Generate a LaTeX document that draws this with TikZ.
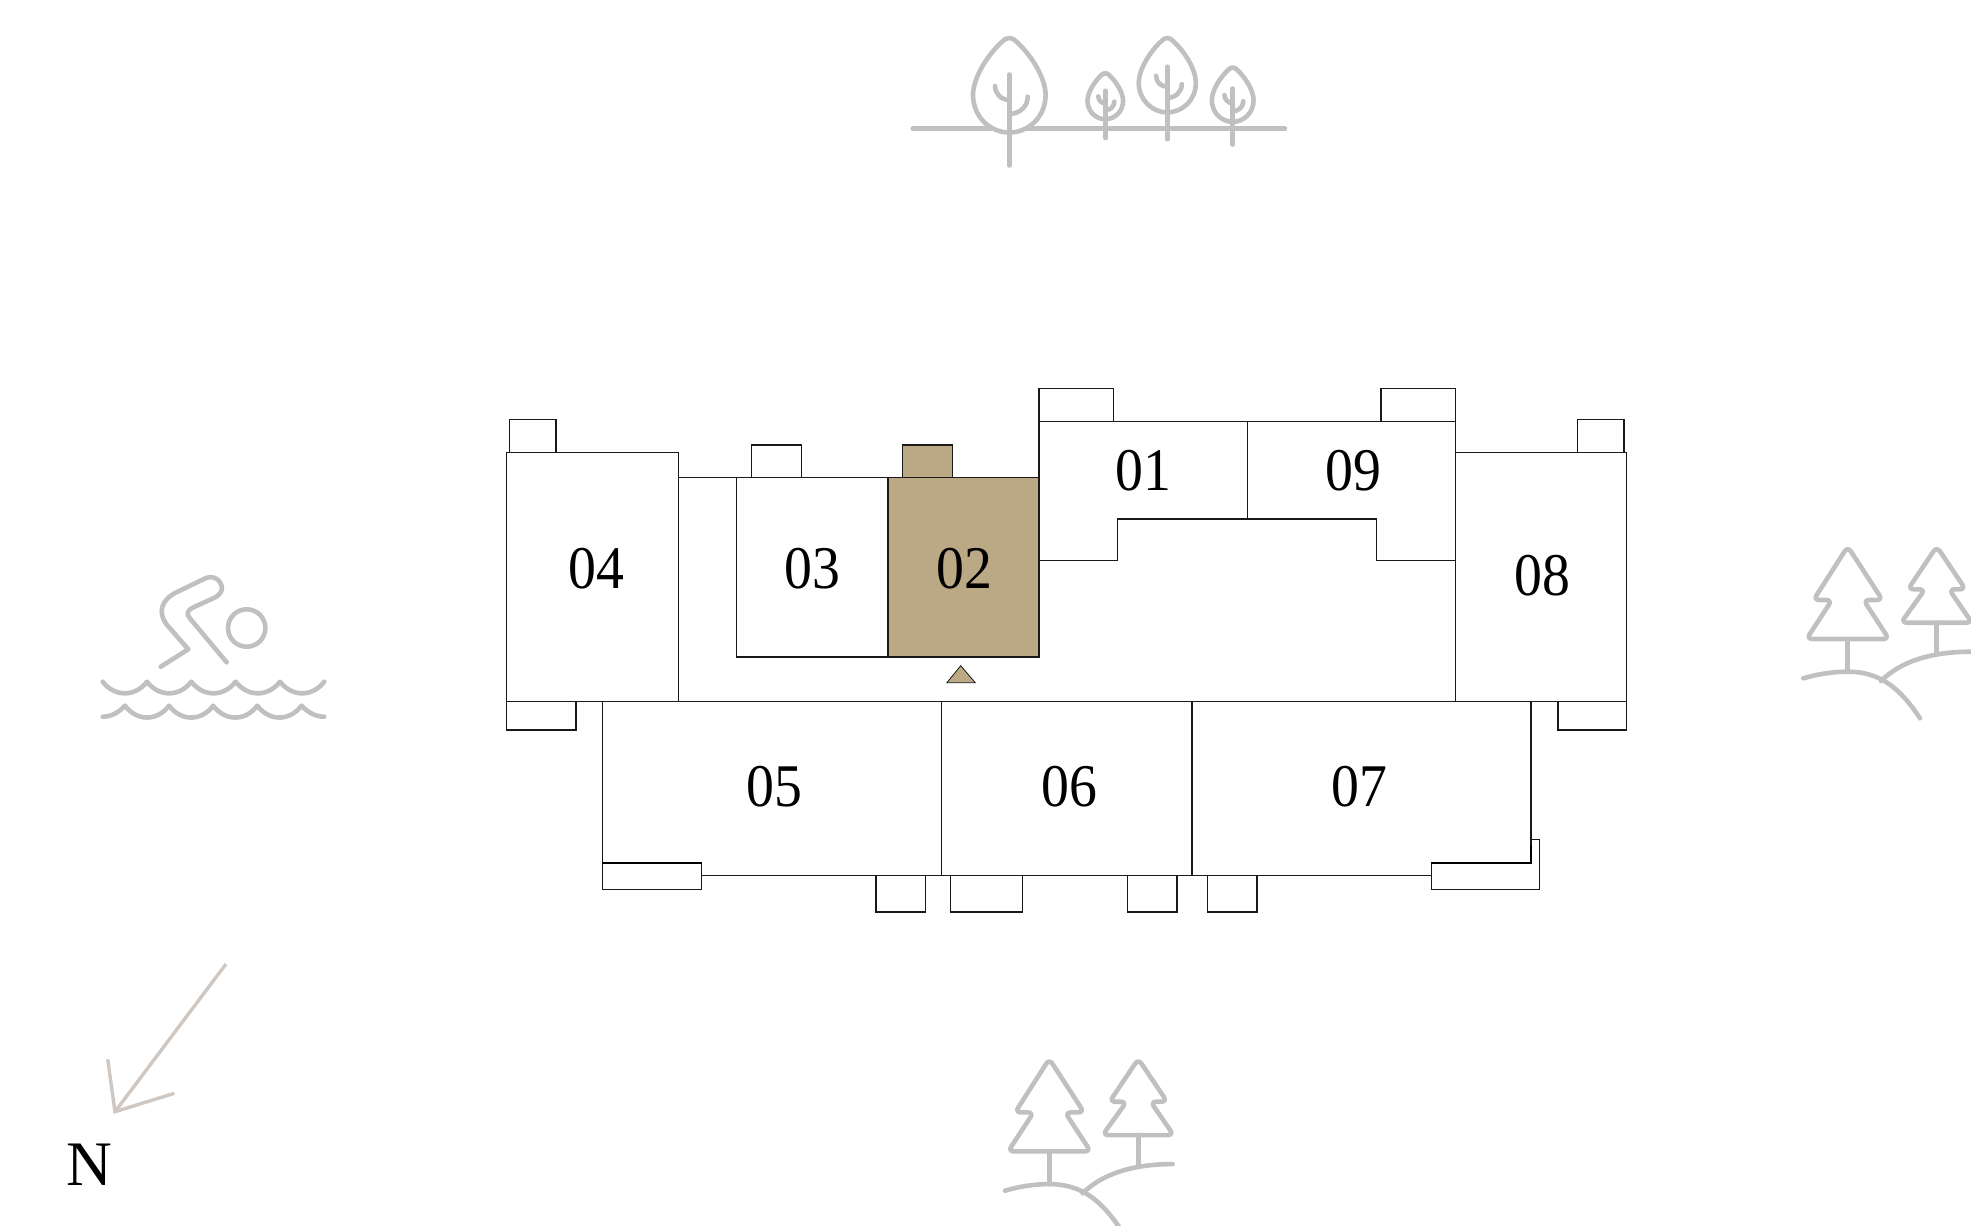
\documentclass[tikz,border=0pt]{standalone}
\usepackage{fontspec}
\setmainfont{Liberation Serif}
\newfontfamily\unitfont[FakeStretch=0.92]{Liberation Serif}
\definecolor{tan}{HTML}{BBA885}
\definecolor{icon}{HTML}{BFC0C1}
\definecolor{compass}{HTML}{CFC7C1}
\tikzset{
  wall/.style={draw=black!90,line width=0.7pt,line join=miter},
  heavy/.style={draw=black,line width=1pt},
  sel/.style={wall,fill=tan},
  unitlabel/.style={font=\unitfont\fontsize{30.3}{32}\selectfont,anchor=base,inner sep=0pt,text=black},
  iconline/.style={draw=icon,line width=2.3pt,line cap=round,line join=round},
  compassline/.style={draw=compass,line width=1.7pt,line cap=butt,line join=miter},
}
\newcommand{\leaftree}[4]{%
  \begin{scope}[shift={(#1,#2)},scale=#3]
    \path[iconline,fill=white] (0,0) .. controls (3,0) and (5,1.5) .. (7,3.5)
      .. controls (22,17) and (36.3,40) .. (36.3,57)
      .. controls (36.3,78) and (20,94.5) .. (0,94.5)
      .. controls (-20,94.5) and (-36.3,78) .. (-36.3,57)
      .. controls (-36.3,40) and (-22,17) .. (-7,3.5)
      .. controls (-5,1.5) and (-3,0) .. (0,0) -- cycle;
    \path[iconline] (0,36.5) -- (0,#4);
    \path[iconline] (-14.3,48) .. controls (-14.3,55.7) and (-8,62) .. (0,62);
    \path[iconline] (18.4,58.7) .. controls (18.4,68.7) and (10,76) .. (0,76);
  \end{scope}}
\newcommand{\pinepair}[2]{%
  \begin{scope}[shift={(#1,#2)}]
    \path[iconline,rounded corners=2.8pt] (1847.7,546.5) -- (1813.5,600) -- (1832,600) -- (1806.5,639) -- (1889,639) -- (1863.5,600) -- (1882.5,600) -- cycle;
    \path[iconline] (1847.7,639) -- (1847.7,672);
    \path[iconline,rounded corners=2.8pt] (1936.7,546.5) -- (1908,589.3) -- (1925,589.3) -- (1901,622.7) -- (1972,622.7) -- (1949,589.3) -- (1965.5,589.3) -- cycle;
    \path[iconline] (1936.7,622.7) -- (1936.7,652);
    \path[iconline] (1803.3,678.3) .. controls (1818,674) and (1833,671.7) .. (1847.7,671.7)
      .. controls (1880,671.7) and (1900,688) .. (1920,718.3);
    \path[iconline] (1881,681) .. controls (1900,662) and (1930,651.7) .. (1971,651.7);
  \end{scope}}
\begin{document}
\begin{tikzpicture}[x=0.5pt,y=-0.5pt]
\useasboundingbox (0,0) rectangle (1971,1226);
% corridor outline and long lines
\draw[wall] (678.3,477.7) -- (1039,477.7);
\draw[wall] (506.7,701.7) -- (1626.6,701.7);
% upper units
\draw[wall] (506.7,452.3) rectangle (678.3,701.7);
\draw[wall] (509.6,419.7) rectangle (555.8,452.3);
\draw[wall] (736.5,477.7) rectangle (888,657);
\draw[wall] (751.4,445) rectangle (801.2,477.7);
\draw[sel] (888,477.7) rectangle (1038.9,657);
\draw[sel] (902.6,445) rectangle (952.4,477.7);
\draw[sel,line width=0.4pt] (960.7,665.7) -- (975.3,682.7) -- (946.9,682.7) -- cycle;
% 01 / 09
\draw[wall] (1039,560.3) -- (1039,421.3) -- (1455.3,421.3) -- (1455.3,560.3) -- (1376.7,560.3) -- (1376.7,519) -- (1117.7,519) -- (1117.7,560.3) -- cycle;
\draw[wall] (1247.4,421.3) -- (1247.4,519);
\draw[wall] (1039,388.3) rectangle (1113.3,421.3);
\draw[wall] (1381,388.3) rectangle (1455.3,421.3);
% 08
\draw[wall] (1455.3,452.3) rectangle (1626.6,701.7);
\draw[wall] (1577.5,419.7) rectangle (1623.8,452.3);
% lower terraces at the ends
\draw[wall] (506.7,701.7) rectangle (575.8,730);
\draw[wall] (1557.8,701.7) rectangle (1626.6,730);
% 05 06 07
\draw[wall] (602.3,862.7) -- (602.3,701.7);
\draw[wall] (701.7,875.7) -- (1431.4,875.7);
\draw[wall] (1531,701.7) -- (1531,839.3);
\draw[wall,line width=0.8pt] (941.3,701.7) -- (941.3,875.7);
\draw[wall,line width=0.8pt] (1192.1,701.7) -- (1192.1,875.7);
% balconies under 05 06 07
\draw[wall] (602.3,862.7) rectangle (701.7,889.3);
\draw[heavy] (602.3,862.7) -- (701.7,862.7);
\draw[wall] (876,875.7) rectangle (925.7,912);
\draw[wall] (950.3,875.7) rectangle (1022.7,912);
\draw[wall] (1127.5,875.7) rectangle (1176.8,912);
\draw[wall] (1207.5,875.7) rectangle (1256.8,912);
\draw[wall] (1431.4,862.7) -- (1531,862.7) -- (1531,839.3) -- (1539.3,839.3) -- (1539.3,889.3) -- (1431.4,889.3) -- cycle;
\draw[heavy] (1431.4,862.7) -- (1531,862.7) -- (1531,845);
% unit labels
\node[unitlabel] (u01) at (1143,490) {01};
\node[unitlabel] (u09) at (1353.5,490) {09};
\node[unitlabel] (u04) at (596,588.3) {04};
\node[unitlabel] (u03) at (812.8,588.3) {03};
\node[unitlabel] (u02) at (964.4,588.3) {02};
\node[unitlabel] (u08) at (1542,595) {08};
\node[unitlabel] (u05) at (774.5,806.7) {05};
\node[unitlabel] (u06) at (1069,806.7) {06};
\node[unitlabel] (u07) at (1359,806.7) {07};
% park icon
\path[iconline] (912.7,128.7) -- (1285,128.7);
\leaftree{1009.3}{38}{1}{127.5}
\leaftree{1105.3}{72.9}{0.49}{133}
\leaftree{1167.3}{38}{0.787}{128.7}
\leaftree{1232.7}{67.5}{0.575}{134}
% swimmer icon
\path[iconline] (246.7,628) circle[radius=18.7];
\path[iconline] (160.7,666.7) -- (188.3,649.3) -- (167,625)
  .. controls (157,612) and (162,600) .. (175,593) -- (205,578.5)
  .. controls (213,574.5) and (221,580) .. (222,587)
  .. controls (222,592) and (219,595.5) .. (215,597.5) -- (193,607.5)
  .. controls (187,610.5) and (186,614) .. (190,618.5) -- (226.7,662.3);
\path[iconline] (102.7,681.7)
  \foreach \a in {102.7,147,191.3,235.7,280}{
    .. controls ({\a+12},697.2) and ({\a+32.3},697.2) .. ({\a+44.3},681.7)};
\path[iconline] (102.7,716.7) .. controls (112,716.7) and (119,712) .. (125,705.7)
  \foreach \a in {125,169.1,213.2,257.4}{
    .. controls ({\a+12},721.5) and ({\a+32.1},721.5) .. ({\a+44.1},705.7)}
  .. controls (307.7,712) and (315,716.7) .. (324.3,716.7);
% forest icons
\pinepair{0}{0}
\pinepair{-798.4}{512.4}
% north arrow
\coordinate (ntail) at (226,964);
\coordinate (ntip) at (115,1111.7);
\coordinate (nleft) at (107.7,1059.3);
\coordinate (nright) at (174.3,1093.3);
\path[compassline] (ntail) -- (ntip);
\path[compassline] (nleft) -- (ntip) -- (nright);
\node[font=\fontsize{31.7}{33}\selectfont,anchor=base,inner sep=0pt] (north) at (89,1185) {N};
\end{tikzpicture}
\end{document}
